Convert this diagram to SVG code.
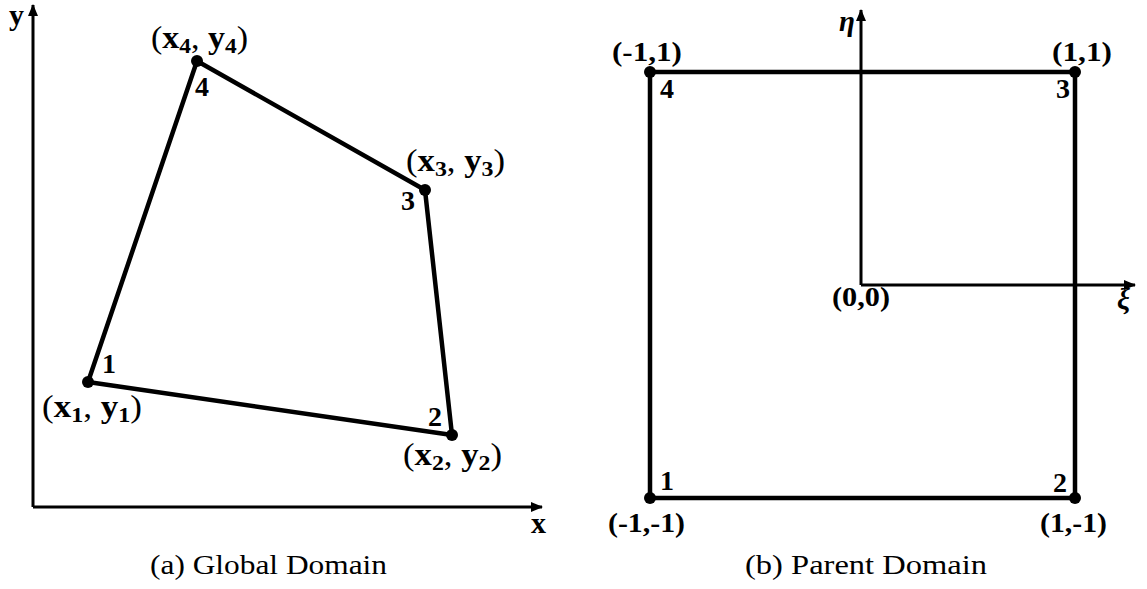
<svg xmlns="http://www.w3.org/2000/svg" width="1147" height="589" viewBox="0 0 1147 589" font-family="'Liberation Serif', 'Times New Roman', serif">
<defs>
<marker id="ah" viewBox="0 0 12 10" refX="11" refY="5" markerWidth="12" markerHeight="10" markerUnits="userSpaceOnUse" orient="auto">
<path d="M0,0 L12,5 L0,10 Z" fill="#000"/>
</marker>
<style>
text{fill:#000}
.num{font-size:28px;font-weight:bold}
.co{font-size:32px}
.b{font-weight:bold}
.sub{font-size:22px;font-weight:bold}
.pc{font-size:28px;font-weight:bold}
.cap{font-size:27px}
.ax{stroke:#000;stroke-width:3;fill:none}
.ed{stroke:#000;stroke-width:4.5;fill:none;stroke-linejoin:round}
.dot{fill:#000}
</style>
</defs>
<rect width="1147" height="589" fill="#fff"/>
<g id="connectors">
<path class="ax" d="M33,507 L33,5" marker-end="url(#ah)"/>
<path class="ax" d="M33,507 L542,507" marker-end="url(#ah)"/>
<path class="ed" d="M88,382 L452,435 L425,190 L197,61 Z"/>
<path class="ax" d="M861,285 L861,10" marker-end="url(#ah)"/>
<path class="ax" d="M861,285 L1135,285" marker-end="url(#ah)"/>
<path class="ed" d="M650,72 L1075,72 L1075,498 L650,498 Z"/>
</g>
<g id="axis-labels">
<text x="9" y="25" class="b" style="font-size:30px">y</text>
<text x="531" y="533" class="b" style="font-size:30px">x</text>
<text x="839" y="31" style="font-size:29px;font-weight:bold;font-style:italic">η</text>
<text x="1117" y="309" style="font-size:29px;font-weight:bold;font-style:italic">ξ</text>
<text x="832" y="306" class="pc" textLength="58" lengthAdjust="spacingAndGlyphs">(0,0)</text>
</g>
<g id="g1">
<circle class="dot" cx="88" cy="382" r="6"/>
<text x="102" y="373" class="num">1</text>
<text x="42" y="417" class="co" textLength="100" lengthAdjust="spacingAndGlyphs">(<tspan class="b">x</tspan><tspan class="sub" dy="5">1</tspan><tspan dy="-5">, </tspan><tspan class="b">y</tspan><tspan class="sub" dy="5">1</tspan><tspan dy="-5">)</tspan></text>
</g>
<g id="g2">
<circle class="dot" cx="452" cy="435" r="6"/>
<text x="428" y="426" class="num">2</text>
<text x="403" y="465" class="co" textLength="99" lengthAdjust="spacingAndGlyphs">(<tspan class="b">x</tspan><tspan class="sub" dy="5">2</tspan><tspan dy="-5">, </tspan><tspan class="b">y</tspan><tspan class="sub" dy="5">2</tspan><tspan dy="-5">)</tspan></text>
</g>
<g id="g3">
<circle class="dot" cx="425" cy="190" r="6"/>
<text x="401" y="210" class="num">3</text>
<text x="406" y="171" class="co" textLength="99" lengthAdjust="spacingAndGlyphs">(<tspan class="b">x</tspan><tspan class="sub" dy="5">3</tspan><tspan dy="-5">, </tspan><tspan class="b">y</tspan><tspan class="sub" dy="5">3</tspan><tspan dy="-5">)</tspan></text>
</g>
<g id="g4">
<circle class="dot" cx="197" cy="61" r="6"/>
<text x="195" y="96" class="num">4</text>
<text x="151" y="48" class="co" textLength="97" lengthAdjust="spacingAndGlyphs">(<tspan class="b">x</tspan><tspan class="sub" dy="5">4</tspan><tspan dy="-5">, </tspan><tspan class="b">y</tspan><tspan class="sub" dy="5">4</tspan><tspan dy="-5">)</tspan></text>
</g>
<g id="p1">
<circle class="dot" cx="650" cy="498" r="6"/>
<text x="660" y="490" class="num">1</text>
<text x="608" y="532" class="pc" textLength="77" lengthAdjust="spacingAndGlyphs">(-1,-1)</text>
</g>
<g id="p2">
<circle class="dot" cx="1075" cy="498" r="6"/>
<text x="1053" y="492" class="num">2</text>
<text x="1040" y="532" class="pc" textLength="67" lengthAdjust="spacingAndGlyphs">(1,-1)</text>
</g>
<g id="p3">
<circle class="dot" cx="1075" cy="72" r="6"/>
<text x="1056" y="98" class="num">3</text>
<text x="1052" y="61" class="pc" textLength="60" lengthAdjust="spacingAndGlyphs">(1,1)</text>
</g>
<g id="p4">
<circle class="dot" cx="650" cy="72" r="6"/>
<text x="660" y="98" class="num">4</text>
<text x="612" y="61" class="pc" textLength="70" lengthAdjust="spacingAndGlyphs">(-1,1)</text>
</g>
<g id="captions">
<text x="150" y="574" class="cap" textLength="237" lengthAdjust="spacingAndGlyphs">(a) Global Domain</text>
<text x="745" y="574" class="cap" textLength="242" lengthAdjust="spacingAndGlyphs">(b) Parent Domain</text>
</g>
</svg>
